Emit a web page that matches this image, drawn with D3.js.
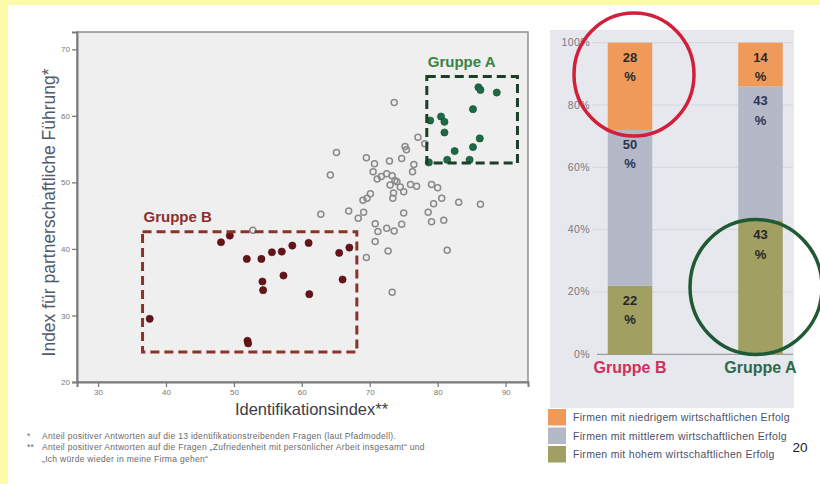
<!DOCTYPE html>
<html>
<head>
<meta charset="utf-8">
<script src="https://cdn.jsdelivr.net/npm/d3@7"></script>
<style>
  html, body { margin: 0; padding: 0; background: #fff; }
  svg { display: block; font-family: "Liberation Sans", Arial, sans-serif; }
</style>
</head>
<body>
<svg id="chart" width="820" height="484"></svg>
<script>
// ---------- scatter data: [Identifikationsindex, Index partnerschaftliche Führung] ----------
const otherFirms = [
  [73.6,62.0],[77.1,56.8],[78.1,55.8],[75.2,55.4],[75.4,54.9],[65.1,54.5],[64.2,51.1],
  [69.5,53.7],[70.7,52.8],[72.9,53.2],[74.7,53.6],[76.5,52.7],[76.3,51.6],[70.5,51.6],
  [71.7,50.9],[73.3,51.0],[71.1,50.5],[74.0,50.1],[73.0,49.6],[74.5,49.3],[76.0,49.7],
  [76.9,49.4],[73.5,48.4],[75.0,48.6],[73.4,47.6],[79.1,49.7],[80.0,49.2],[80.6,47.6],
  [79.4,46.8],[83.1,47.0],[86.3,46.7],[70.1,48.3],[69.6,47.6],[69.0,47.3],[66.9,45.7],
  [62.8,45.2],[69.1,45.5],[68.3,44.6],[75.0,45.4],[78.6,45.5],[79.1,44.1],[80.9,44.3],
  [70.8,43.8],[71.2,42.6],[72.5,43.1],[73.6,42.7],[74.7,43.7],[70.8,41.1],[72.7,39.7],
  [81.4,39.8],[69.5,38.7],[73.3,33.5],[52.8,42.8],[72.5,51.3],[73.7,50.3]
];
const gruppeB = [
  [48.1,41.0],[49.4,42.0],[51.9,38.5],[54.05,38.5],[55.6,39.5],[57.05,39.6],[58.6,40.5],
  [61.0,40.9],[65.5,39.4],[67.0,40.2],[54.2,35.1],[54.3,33.8],[57.3,36.0],[61.1,33.2],
  [66.0,35.4],[37.6,29.5],[52.0,26.2],[52.1,25.8]
];
const gruppeA = [
  [86.0,64.3],[86.3,63.9],[88.7,63.5],[85.2,61.0],[80.5,59.9],[81.0,59.1],[78.9,59.3],
  [81.0,57.5],[86.2,56.6],[85.2,55.3],[82.5,54.7],[81.4,53.4],[84.7,53.4],[78.7,53.0]
];
// selection boxes: [xMin, xMax, yMin, yMax]
const boxB = [36.55, 68.1, 24.5, 42.57];
const boxA = [78.4, 91.75, 52.9, 65.9];
const xTicks = [30, 40, 50, 60, 70, 80, 90];
const yTicks = [20, 30, 40, 50, 60, 70];

// ---------- stacked bar data (percent) ----------
const groups = ["Gruppe B", "Gruppe A"];
const hoherErfolg = [22, 43];
const mittlererErfolg = [50, 43];
const niedrigerErfolg = [28, 14];
const pctTicks = [0, 20, 40, 60, 80, 100];
const legendLabels = [
  "Firmen mit niedrigem wirtschaftlichen Erfolg",
  "Firmen mit mittlerem wirtschaftlichen Erfolg",
  "Firmen mit hohem wirtschaftlichen Erfolg"
];
const footnotes = [
  ["*", "Anteil positiver Antworten auf die 13 identifikationstreibenden Fragen (laut Pfadmodell)."],
  ["**", "Anteil positiver Antworten auf die Fragen „Zufriedenheit mit persönlicher Arbeit insgesamt“ und"],
  ["", "„Ich würde wieder in meine Firma gehen“"]
];

const svg = d3.select("#chart");

// page frame: pale yellow margins on top and left
svg.append("rect").attr("width", 820).attr("height", 484).attr("fill", "#fdfaa9");
svg.append("rect").attr("x", 8).attr("y", 5).attr("width", 812).attr("height", 479).attr("fill", "#ffffff");

// ================= scatter plot =================
const x = d3.scaleLinear().domain([26.9, 93.3]).range([77, 528]);
const y = d3.scaleLinear().domain([20, 72.6]).range([382, 32]);

svg.append("rect")
  .attr("x", x.range()[0]).attr("y", y.range()[1])
  .attr("width", x.range()[1] - x.range()[0]).attr("height", y.range()[0] - y.range()[1])
  .attr("fill", "#efefef").attr("stroke", "#8e8e8e").attr("stroke-width", 1.5);

const xAxis = svg.append("g").attr("transform", `translate(0,${y(20)})`)
  .call(d3.axisBottom(x).tickValues(xTicks).tickSize(5).tickPadding(2));
const yAxis = svg.append("g").attr("transform", `translate(${x.range()[0]},0)`)
  .call(d3.axisLeft(y).tickValues(yTicks).tickSize(5).tickPadding(2));
[xAxis, yAxis].forEach(g => {
  g.select(".domain").attr("stroke", "#7c7c7c").attr("stroke-width", 2);
  g.selectAll(".tick line").attr("stroke", "#7c7c7c").attr("stroke-width", 1.3);
  g.selectAll(".tick text").attr("fill", "#777").attr("font-size", 8)
    .attr("font-family", "Liberation Sans, Arial, sans-serif");
});

svg.append("g").selectAll("circle").data(otherFirms).join("circle")
  .attr("cx", d => x(d[0])).attr("cy", d => y(d[1])).attr("r", 3)
  .attr("fill", "none").attr("stroke", "#8a8a8a").attr("stroke-width", 1.5);

svg.append("g").selectAll("circle").data(gruppeB).join("circle")
  .attr("cx", d => x(d[0])).attr("cy", d => y(d[1])).attr("r", 3.6)
  .attr("fill", "#661419").attr("stroke", "#4a0c10").attr("stroke-width", 0.6);

svg.append("g").selectAll("circle").data(gruppeA).join("circle")
  .attr("cx", d => x(d[0])).attr("cy", d => y(d[1])).attr("r", 3.6)
  .attr("fill", "#1f6a46").attr("stroke", "#124a30").attr("stroke-width", 0.6);

function drawBox(b, color, label, labelColor) {
  svg.append("rect")
    .attr("x", x(b[0])).attr("y", y(b[3]))
    .attr("width", x(b[1]) - x(b[0])).attr("height", y(b[2]) - y(b[3]))
    .attr("fill", "none").attr("stroke", color).attr("stroke-width", 3)
    .attr("stroke-dasharray", "9,5");
  svg.append("text")
    .attr("x", x(b[0]) + 1).attr("y", y(b[3]) - 9.5)
    .attr("font-size", 15).attr("font-weight", "bold").attr("fill", labelColor)
    .text(label);
}
drawBox(boxB, "#8a3428", "Gruppe B", "#8e2d2d");
drawBox(boxA, "#1b3f27", "Gruppe A", "#3a8243");

svg.append("text")
  .attr("x", (x(26.9) + x(93.3)) / 2 + 9).attr("y", 415)
  .attr("text-anchor", "middle").attr("font-size", 16.5).attr("fill", "#3c3c48")
  .text("Identifikationsindex**");

svg.append("text")
  .attr("transform", `translate(55,${(y(20) + y(72.6)) / 2 + 5.5}) rotate(-90)`)
  .attr("text-anchor", "middle").attr("font-size", 17.5).attr("fill", "#505a6a")
  .text("Index für partnerschaftliche Führung*");

// footnotes
const fn = svg.append("g").attr("font-size", 8.5).attr("letter-spacing", 0.3).attr("fill", "#6a6a6a");
footnotes.forEach((f, i) => {
  const yy = 439 + i * 11.3;
  fn.append("text").attr("x", 27).attr("y", yy).text(f[0]);
  fn.append("text").attr("x", 42).attr("y", yy).text(f[1]);
});

// ================= stacked bars =================
svg.append("rect").attr("x", 550).attr("y", 30).attr("width", 244).attr("height", 378)
  .attr("fill", "#e6e8ee");

const xb = d3.scaleBand().domain(groups).range([568.6, 821.9])
  .paddingInner(0.659).paddingOuter(0.3);
const yb = d3.scaleLinear().domain([0, 100]).range([354.3, 42.7]);

svg.append("g").selectAll("line").data(pctTicks.filter(t => t > 0)).join("line")
  .attr("x1", 592).attr("x2", 793)
  .attr("y1", d => yb(d)).attr("y2", d => yb(d))
  .attr("stroke", "#d3d6dd").attr("stroke-width", 1);
svg.append("line").attr("x1", 597).attr("x2", 793)
  .attr("y1", yb(0)).attr("y2", yb(0)).attr("stroke", "#9a9ca6").attr("stroke-width", 1.3);

svg.append("g").selectAll("text").data(pctTicks).join("text")
  .attr("x", 590).attr("y", d => yb(d) + 3.5)
  .attr("text-anchor", "end").attr("font-size", 10.5).attr("letter-spacing", 0.4)
  .attr("fill", "#7a7a82").text(d => d + "%");

const seriesDefs = [
  { values: hoherErfolg, color: "#a19f62", text: "#262626" },
  { values: mittlererErfolg, color: "#b4b8c7", text: "#2c3454" },
  { values: niedrigerErfolg, color: "#f09a5a", text: "#2a2a2a" }
];
const stackRows = groups.map((g, i) => ({ group: g, hoch: hoherErfolg[i], mittel: mittlererErfolg[i], niedrig: niedrigerErfolg[i] }));
const stacked = d3.stack().keys(["hoch", "mittel", "niedrig"])(stackRows);

stacked.forEach((layer, li) => {
  const def = seriesDefs[li];
  const g = svg.append("g");
  g.selectAll("rect").data(layer).join("rect")
    .attr("x", d => xb(d.data.group)).attr("width", xb.bandwidth())
    .attr("y", d => yb(d[1])).attr("height", d => yb(d[0]) - yb(d[1]))
    .attr("fill", def.color);
  const t = g.selectAll("text").data(layer).join("text")
    .attr("text-anchor", "middle").attr("font-size", 13).attr("font-weight", "bold")
    .attr("fill", def.text);
  t.append("tspan")
    .attr("x", d => xb(d.data.group) + xb.bandwidth() / 2)
    .attr("y", d => yb(d[1]) + 19)
    .text(d => d.data[layer.key]);
  t.append("tspan")
    .attr("x", d => xb(d.data.group) + xb.bandwidth() / 2)
    .attr("y", d => yb(d[1]) + 38.5)
    .text("%");
});

const groupColors = ["#d0305a", "#2f6a4c"];
svg.append("g").selectAll("text").data(groups).join("text")
  .attr("x", d => xb(d) + xb.bandwidth() / 2).attr("y", 372.5)
  .attr("text-anchor", "middle").attr("font-size", 16).attr("font-weight", "bold")
  .attr("fill", (d, i) => groupColors[i]).text(d => d);

// highlight rings
const cB = xb("Gruppe B") + xb.bandwidth() / 2;
const cA = xb("Gruppe A") + xb.bandwidth() / 2;
svg.append("ellipse").attr("cx", cB + 4).attr("cy", yb(89.8)).attr("rx", 60).attr("ry", 61.5)
  .attr("fill", "none").attr("stroke", "#d0203c").attr("stroke-width", 3.5);
svg.append("ellipse").attr("cx", cA - 4.5).attr("cy", yb(21.6)).attr("rx", 66).attr("ry", 67.5)
  .attr("fill", "none").attr("stroke", "#1f5a34").attr("stroke-width", 3.5);

// legend
const lg = svg.append("g");
const legendColors = [seriesDefs[2].color, seriesDefs[1].color, seriesDefs[0].color];
legendLabels.forEach((l, i) => {
  const yy = 409 + i * 18.5;
  lg.append("rect").attr("x", 548).attr("y", yy).attr("width", 18).attr("height", 16.5)
    .attr("fill", legendColors[i]);
  lg.append("text").attr("x", 573).attr("y", yy + 12)
    .attr("font-size", 10.5).attr("letter-spacing", 0.3).attr("fill", "#4b5068").text(l);
});

svg.append("text").attr("x", 800).attr("y", 451.5).attr("text-anchor", "middle")
  .attr("font-size", 13.5).attr("fill", "#222").text("20");
</script>
</body>
</html>
